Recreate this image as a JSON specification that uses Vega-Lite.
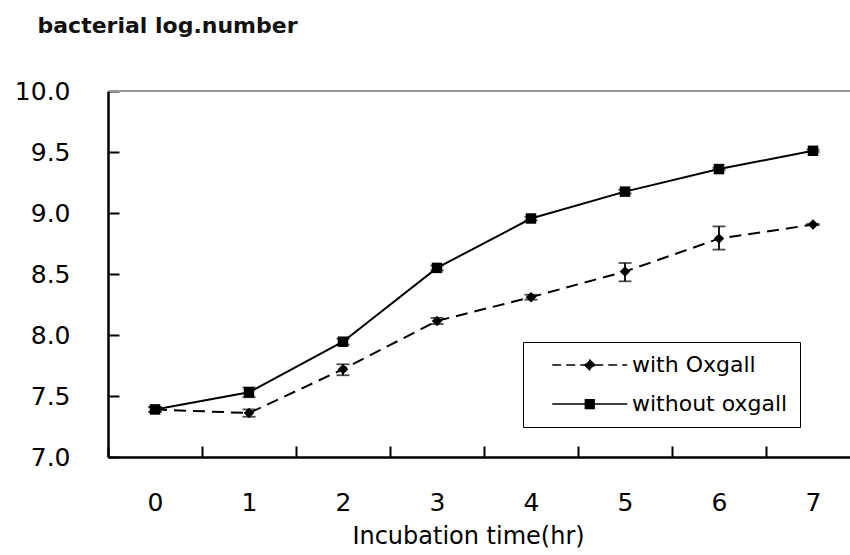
{
  "$schema": "https://vega.github.io/schema/vega-lite/v6.json",
  "width": 742,
  "height": 366,
  "autosize": {"type": "none"},
  "padding": {"left": 108, "top": 91, "right": 0, "bottom": 98},
  "background": "white",
  "config": {
    "view": {"stroke": null},
    "font": "DejaVu Sans"
  },
  "data": {
    "values": [
      {"series": "with Oxgall", "time": 0, "mean": 7.39, "lo": 7.37, "hi": 7.41},
      {"series": "with Oxgall", "time": 1, "mean": 7.36, "lo": 7.33, "hi": 7.39},
      {"series": "with Oxgall", "time": 2, "mean": 7.72, "lo": 7.67, "hi": 7.76},
      {"series": "with Oxgall", "time": 3, "mean": 8.115, "lo": 8.09, "hi": 8.14},
      {"series": "with Oxgall", "time": 4, "mean": 8.31, "lo": 8.29, "hi": 8.33},
      {"series": "with Oxgall", "time": 5, "mean": 8.52, "lo": 8.44, "hi": 8.59},
      {"series": "with Oxgall", "time": 6, "mean": 8.79, "lo": 8.70, "hi": 8.89},
      {"series": "with Oxgall", "time": 7, "mean": 8.905, "lo": 8.9, "hi": 8.91},
      {"series": "without oxgall", "time": 0, "mean": 7.39, "lo": 7.37, "hi": 7.41},
      {"series": "without oxgall", "time": 1, "mean": 7.53, "lo": 7.49, "hi": 7.57},
      {"series": "without oxgall", "time": 2, "mean": 7.945, "lo": 7.92, "hi": 7.97},
      {"series": "without oxgall", "time": 3, "mean": 8.55, "lo": 8.53, "hi": 8.57},
      {"series": "without oxgall", "time": 4, "mean": 8.955, "lo": 8.94, "hi": 8.97},
      {"series": "without oxgall", "time": 5, "mean": 9.175, "lo": 9.16, "hi": 9.19},
      {"series": "without oxgall", "time": 6, "mean": 9.36, "lo": 9.35, "hi": 9.37},
      {"series": "without oxgall", "time": 7, "mean": 9.51, "lo": 9.5, "hi": 9.52}
    ]
  },
  "encoding": {
    "x": {
      "field": "time",
      "type": "ordinal",
      "scale": {"range": [0, 752], "paddingInner": 0, "paddingOuter": 0},
      "axis": {
        "title": "Incubation time(hr)",
        "titleFont": "DejaVu Sans",
        "titleFontSize": 24,
        "titleFontWeight": "normal",
        "titleColor": "black",
        "titleX": 360,
        "titleY": 86,
        "titleBaseline": "alphabetic",
        "labelAngle": 0,
        "labelFont": "DejaVu Sans",
        "labelFontSize": 25,
        "labelColor": "black",
        "labelBaseline": "alphabetic",
        "labelPadding": 64,
        "tickBand": "extent",
        "tickSize": -11,
        "tickWidth": 2,
        "tickColor": "black",
        "domainColor": "black",
        "domainWidth": 2.5,
        "grid": false
      }
    },
    "y": {
      "field": "mean",
      "type": "quantitative",
      "title": "bacterial log.number",
      "scale": {"domain": [7, 10], "nice": false, "zero": false},
      "axis": {
        "values": [7, 7.5, 8, 8.5, 9, 9.5, 10],
        "format": ".1f",
        "titleAngle": 0,
        "titleAlign": "left",
        "titleBaseline": "alphabetic",
        "titleX": -71,
        "titleY": -59,
        "titleFont": "DejaVu Sans",
        "titleFontSize": 22,
        "titleFontWeight": "bold",
        "titleColor": "#111111",
        "labelFont": "DejaVu Sans",
        "labelFontSize": 25,
        "labelColor": "black",
        "labelPadding": 49,
        "labelBaseline": "middle",
        "tickSize": -11,
        "tickWidth": 2,
        "tickColor": "black",
        "domainColor": "black",
        "domainWidth": 2.5,
        "grid": false
      }
    }
  },
  "layer": [
    {
      "mark": {"type": "rule", "color": "#999999", "strokeWidth": 1.5},
      "encoding": {"y": {"datum": 10, "type": "quantitative", "title": "bacterial log.number"}, "x": null}
    },
    {
      "mark": {"type": "errorbar", "ticks": {"size": 13}, "color": "black", "thickness": 1.8},
      "encoding": {
        "y": {"field": "lo", "type": "quantitative", "title": "bacterial log.number"},
        "y2": {"field": "hi"},
        "detail": {"field": "series"}
      }
    },
    {
      "transform": [{"filter": "datum.series === 'with Oxgall'"}],
      "mark": {"type": "line", "color": "black", "strokeWidth": 2, "strokeDash": [12, 7]},
      "encoding": {}
    },
    {
      "transform": [{"filter": "datum.series === 'without oxgall'"}],
      "mark": {"type": "line", "color": "black", "strokeWidth": 2},
      "encoding": {}
    },
    {
      "transform": [{"filter": "datum.series === 'with Oxgall'"}],
      "mark": {"type": "point", "shape": "diamond", "filled": true, "color": "black", "size": 110, "opacity": 1},
      "encoding": {}
    },
    {
      "transform": [{"filter": "datum.series === 'without oxgall'"}],
      "mark": {"type": "point", "shape": "square", "filled": true, "color": "black", "size": 110, "opacity": 1},
      "encoding": {}
    },
    {
      "mark": {"type": "point", "filled": true, "fill": "black", "stroke": "black", "strokeWidth": 2, "opacity": 0},
      "encoding": {
        "shape": {
          "field": "series",
          "type": "nominal",
          "scale": {"domain": ["with Oxgall", "without oxgall"], "range": ["M1,0H13M7,-0.8L7.8,0L7,0.8L6.2,0Z", "M1,0H13M6.3,-0.7H7.7V0.7H6.3Z"]},
          "legend": {
            "title": null,
            "orient": "none",
            "legendX": 415,
            "legendY": 251,
            "padding": 12,
            "strokeColor": "black",
            "fillColor": "white",
            "labelFont": "DejaVu Sans",
            "labelFontSize": 22,
            "labelColor": "black",
            "labelOffset": 75,
            "symbolSize": 156.25,
            "symbolOpacity": 1,
            "rowPadding": 17
          }
        },
        "strokeDash": {
          "field": "series",
          "type": "nominal",
          "scale": {"domain": ["with Oxgall", "without oxgall"], "range": [[9, 5], [1, 0]]},
          "legend": {
            "title": null,
            "orient": "none",
            "legendX": 415,
            "legendY": 251,
            "padding": 12,
            "strokeColor": "black",
            "fillColor": "white",
            "labelFont": "DejaVu Sans",
            "labelFontSize": 22,
            "labelColor": "black",
            "labelOffset": 75,
            "symbolSize": 156.25,
            "symbolOpacity": 1,
            "rowPadding": 17
          }
        }
      }
    }
  ]
}
